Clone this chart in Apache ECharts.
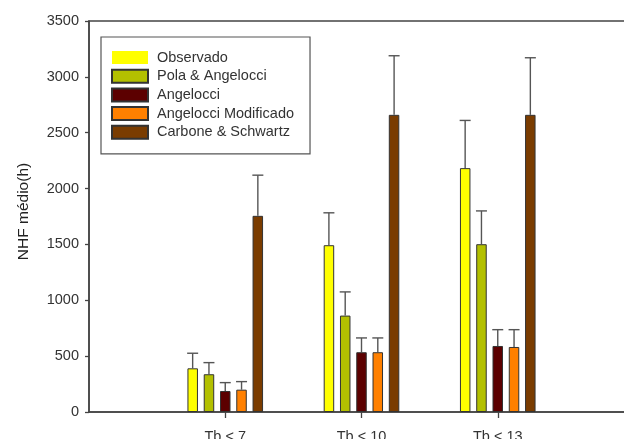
<!DOCTYPE html>
<html>
<head>
<meta charset="utf-8">
<script src="https://cdn.jsdelivr.net/npm/echarts@6/dist/echarts.min.js"></script>
<style>html,body{margin:0;padding:0;background:#fff;overflow:hidden;}#c{width:624px;height:439px;}</style>
</head>
<body>
<div id="c"></div>
<script>
var categories = ['', 'Tb < 7', 'Tb < 10', 'Tb < 13', ''];
var seriesNames = ['Observado', 'Pola & Angelocci', 'Angelocci', 'Angelocci Modificado', 'Carbone & Schwartz'];
var observado = [null, 391, 1493, 2183, null];
var polaAngelocci = [null, 338, 863, 1502, null];
var angelocci = [null, 188, 535, 591, null];
var angelocciMod = [null, 200, 535, 582, null];
var carboneSchwartz = [null, 1756, 2660, 2660, null];
var observadoErr = [null, 526, 1783, 2610, null];
var polaAngelocciErr = [null, 442, 1075, 1800, null];
var angelocciErr = [null, 263, 663, 737, null];
var angelocciModErr = [null, 272, 663, 737, null];
var carboneSchwartzErr = [null, 2120, 3189, 3171, null];
var yTicks = [0, 500, 1000, 1500, 2000, 2500, 3000, 3500];

var values = [observado, polaAngelocci, angelocci, angelocciMod, carboneSchwartz];
var errTops = [observadoErr, polaAngelocciErr, angelocciErr, angelocciModErr, carboneSchwartzErr];
var colors = ['#ffff00', '#b3c000', '#5c0000', '#ff8000', '#7a3c00'];

var BAR_W = 10.5, STEP = 16.3, CAP = 11;
var font = 'Liberation Sans, Arial, sans-serif';

var series = [];
seriesNames.forEach(function (name, i) {
  series.push({
    name: name,
    type: 'bar',
    barWidth: BAR_W,
    barGap: '55%',
    data: values[i],
    itemStyle: { color: colors[i], borderColor: '#333', borderWidth: 1 },
    z: 2
  });
});
seriesNames.forEach(function (name, i) {
  var d = [];
  for (var k = 0; k < categories.length; k++) {
    if (values[i][k] != null) d.push([k, values[i][k], errTops[i][k]]);
  }
  series.push({
    type: 'custom',
    data: d,
    z: 1,
    silent: true,
    renderItem: function (params, api) {
      var x = api.value(0);
      var p0 = api.coord([x, api.value(1)]);
      var p1 = api.coord([x, api.value(2)]);
      var cx = p0[0] + (i - 2) * STEP;
      var st = { stroke: '#555', lineWidth: 1.4 };
      return {
        type: 'group',
        children: [
          { type: 'line', shape: { x1: cx, y1: p0[1], x2: cx, y2: p1[1] }, style: st },
          { type: 'line', shape: { x1: cx - CAP / 2, y1: p1[1], x2: cx + CAP / 2, y2: p1[1] }, style: st }
        ]
      };
    }
  });
});

var chart = echarts.init(document.getElementById('c'), null, { renderer: 'canvas' });
chart.setOption({
  backgroundColor: '#fff',
  animation: false,
  grid: { left: 89, width: 545, top: 21, bottom: 27, show: true, borderColor: '#444', borderWidth: 1.5, containLabel: false, outerBoundsMode: 'none' },
  legend: {
    orient: 'vertical',
    left: 101,
    top: 37,
    data: seriesNames.map(function (n, i) {
      return i === 0 ? { name: n, itemStyle: { borderWidth: 0 } } : { name: n };
    }),
    itemWidth: 36,
    itemHeight: 13,
    itemGap: 3.7,
    padding: [13, 16, 14, 10],
    borderColor: '#555',
    borderWidth: 1.2,
    icon: 'rect',
    textStyle: { fontFamily: font, fontSize: 14.5, lineHeight: 15, color: '#333', padding: [0, 0, 0, 4] }
  },
  xAxis: {
    type: 'category',
    data: categories,
    boundaryGap: false,
    axisLine: { lineStyle: { color: '#444', width: 1.5 } },
    axisTick: {
      length: 6,
      lineStyle: { color: '#444', width: 1.3 },
      interval: function (idx) { return idx > 0 && idx < categories.length - 1; }
    },
    axisLabel: {
      interval: 0,
      margin: 17,
      fontFamily: font,
      fontSize: 14.5,
      color: '#333'
    },
    splitLine: { show: false }
  },
  yAxis: {
    type: 'value',
    min: yTicks[0],
    max: yTicks[yTicks.length - 1],
    interval: 500,
    name: 'NHF médio(h)',
    nameLocation: 'middle',
    nameGap: 57,
    nameTextStyle: { fontFamily: font, fontSize: 15.5, color: '#222', padding: [0, 0, 0, 10] },
    axisLine: { show: true, lineStyle: { color: '#444', width: 1.5 } },
    axisTick: { show: true, length: 4, lineStyle: { color: '#444', width: 1.3 } },
    axisLabel: { margin: 10, fontFamily: font, fontSize: 14.5, color: '#333', formatter: function (v) { return String(v); } },
    splitLine: { show: false }
  },
  series: series
});
</script>
</body>
</html>
